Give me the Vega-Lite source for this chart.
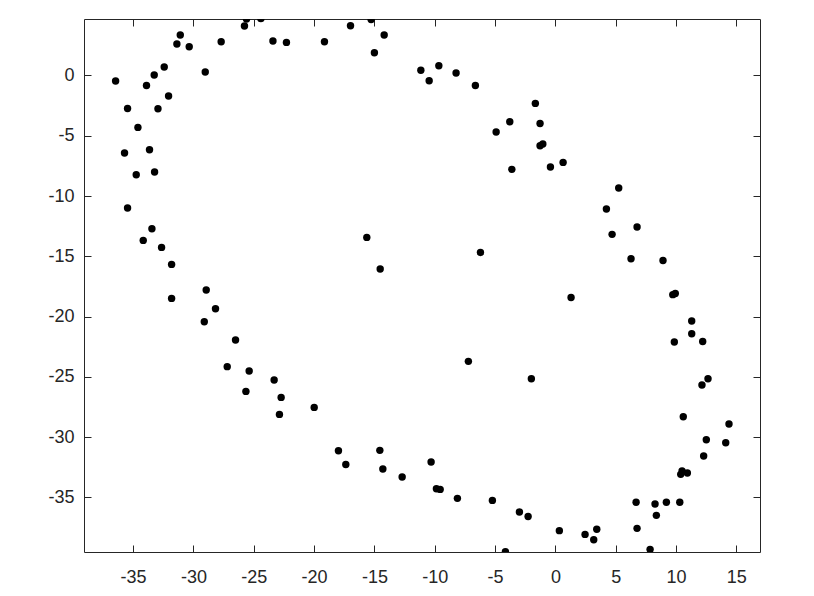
{
  "$schema": "https://vega.github.io/schema/vega-lite/v6.json",
  "width": 676,
  "height": 533,
  "autosize": {"type": "none"},
  "padding": {"left": 84, "top": 19, "right": 54, "bottom": 44},
  "background": "white",
  "config": {
    "view": {"stroke": null},
    "axis": {
      "grid": false,
      "domainColor": "#262626",
      "domainWidth": 1,
      "tickColor": "#262626",
      "tickWidth": 1,
      "tickSize": -7,
      "labelColor": "#262626",
      "labelFont": "Liberation Sans",
      "labelFontSize": 18,
      "labelExpr": "toString(datum.value)",
      "title": null
    }
  },
  "data": {
    "values": [
      {"x": -36.45, "y": -0.46}, {"x": -35.46, "y": -2.74}, {"x": -34.6, "y": -4.31}, {"x": -35.71, "y": -6.43},
      {"x": -33.64, "y": -6.16}, {"x": -34.74, "y": -8.23}, {"x": -33.22, "y": -8.01}, {"x": -35.46, "y": -11.0},
      {"x": -33.89, "y": -0.83}, {"x": -33.25, "y": 0.03}, {"x": -32.94, "y": -2.76}, {"x": -32.42, "y": 0.7},
      {"x": -32.06, "y": -1.71}, {"x": -31.37, "y": 2.6}, {"x": -31.09, "y": 3.35}, {"x": -30.35, "y": 2.38},
      {"x": -29.02, "y": 0.28}, {"x": -27.7, "y": 2.79}, {"x": -25.77, "y": 4.1}, {"x": -25.6, "y": 4.68},
      {"x": -24.41, "y": 4.72}, {"x": -23.41, "y": 2.85}, {"x": -22.29, "y": 2.74}, {"x": -19.14, "y": 2.79},
      {"x": -16.98, "y": 4.12}, {"x": -15.27, "y": 4.64}, {"x": -15.0, "y": 1.88}, {"x": -14.19, "y": 3.35},
      {"x": -11.15, "y": 0.43}, {"x": -10.46, "y": -0.44}, {"x": -9.66, "y": 0.8}, {"x": -8.23, "y": 0.2},
      {"x": -6.63, "y": -0.83}, {"x": -1.66, "y": -2.32}, {"x": -3.78, "y": -3.84}, {"x": -4.91, "y": -4.69},
      {"x": -1.27, "y": -3.98}, {"x": -1.27, "y": -5.83}, {"x": -1.04, "y": -5.69}, {"x": -3.61, "y": -7.79},
      {"x": -0.41, "y": -7.6}, {"x": 0.64, "y": -7.21}, {"x": 5.25, "y": -9.34}, {"x": 4.23, "y": -11.08},
      {"x": -33.44, "y": -12.71}, {"x": -34.16, "y": -13.68}, {"x": -32.64, "y": -14.26}, {"x": -31.81, "y": -15.67},
      {"x": -31.81, "y": -18.49}, {"x": -28.94, "y": -17.8}, {"x": -28.17, "y": -19.35}, {"x": -29.1, "y": -20.42},
      {"x": -26.51, "y": -21.94}, {"x": -27.2, "y": -24.15}, {"x": -25.38, "y": -24.51}, {"x": -23.31, "y": -25.26},
      {"x": -25.65, "y": -26.2}, {"x": -22.73, "y": -26.7}, {"x": -15.63, "y": -13.43}, {"x": -14.52, "y": -16.05},
      {"x": 6.77, "y": -12.57}, {"x": 4.7, "y": -13.18}, {"x": -6.21, "y": -14.68}, {"x": 6.27, "y": -15.2},
      {"x": 8.92, "y": -15.34}, {"x": 9.73, "y": -18.18}, {"x": 9.94, "y": -18.08}, {"x": 1.3, "y": -18.41},
      {"x": 11.3, "y": -20.37}, {"x": 11.3, "y": -21.42}, {"x": 9.86, "y": -22.11}, {"x": 12.21, "y": -22.06},
      {"x": -7.21, "y": -23.71}, {"x": -1.99, "y": -25.15}, {"x": 12.65, "y": -25.15}, {"x": 12.15, "y": -25.67},
      {"x": -22.87, "y": -28.11}, {"x": -19.99, "y": -27.53}, {"x": -17.98, "y": -31.12}, {"x": -17.37, "y": -32.26},
      {"x": -14.55, "y": -31.09}, {"x": -14.3, "y": -32.64}, {"x": -12.7, "y": -33.3}, {"x": -10.3, "y": -32.06},
      {"x": -9.86, "y": -34.27}, {"x": -9.55, "y": -34.33}, {"x": -8.12, "y": -35.07}, {"x": -5.22, "y": -35.24},
      {"x": -2.98, "y": -36.2}, {"x": -2.26, "y": -36.57}, {"x": -4.14, "y": -39.5}, {"x": 0.33, "y": -37.75},
      {"x": 2.46, "y": -38.06}, {"x": 3.18, "y": -38.5}, {"x": 3.43, "y": -37.64}, {"x": 6.69, "y": -35.4},
      {"x": 6.77, "y": -37.56}, {"x": 7.85, "y": -39.3}, {"x": 8.26, "y": -35.54}, {"x": 8.37, "y": -36.48},
      {"x": 9.2, "y": -35.4}, {"x": 10.31, "y": -35.4}, {"x": 10.39, "y": -33.08}, {"x": 10.5, "y": -32.8},
      {"x": 10.94, "y": -32.97}, {"x": 10.6, "y": -28.3}, {"x": 12.29, "y": -31.56}, {"x": 12.51, "y": -30.21},
      {"x": 14.12, "y": -30.46}, {"x": 14.39, "y": -28.91}
    ]
  },
  "layer": [
    {
      "mark": {"type": "point", "filled": true, "color": "black", "opacity": 1, "size": 55, "clip": true},
      "encoding": {
        "x": {"field": "x", "type": "quantitative",
              "scale": {"domain": [-39.07, 16.96], "nice": false, "zero": false},
              "axis": {"orient": "bottom", "values": [-35, -30, -25, -20, -15, -10, -5, 0, 5, 10, 15], "labelPadding": 23}},
        "y": {"field": "y", "type": "quantitative",
              "scale": {"domain": [-39.52, 4.68], "nice": false, "zero": false},
              "axis": {"orient": "left", "values": [-35, -30, -25, -20, -15, -10, -5, 0], "labelPadding": 17}}
      }
    },
    {
      "mark": {"type": "point", "filled": true, "opacity": 0, "size": 1, "clip": true},
      "encoding": {
        "x": {"field": "x", "type": "quantitative",
              "scale": {"domain": [-39.07, 16.96], "nice": false, "zero": false},
              "axis": {"orient": "top", "values": [-35, -30, -25, -20, -15, -10, -5, 0, 5, 10, 15], "labels": false}},
        "y": {"field": "y", "type": "quantitative",
              "scale": {"domain": [-39.52, 4.68], "nice": false, "zero": false},
              "axis": {"orient": "right", "values": [-35, -30, -25, -20, -15, -10, -5, 0], "labels": false}}
      }
    }
  ],
  "resolve": {"axis": {"x": "independent", "y": "independent"}}
}
